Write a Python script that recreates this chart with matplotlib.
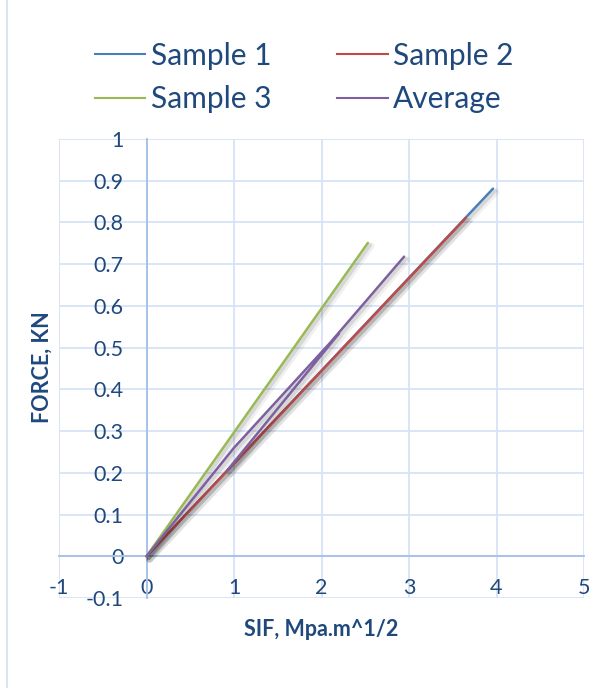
import numpy as np
import matplotlib
matplotlib.use("Agg")
import matplotlib.pyplot as plt
from matplotlib import patheffects as pe
from matplotlib.lines import Line2D
from matplotlib.patches import Rectangle

plt.rcParams["font.family"] = ["Lato", "DejaVu Sans"]

# SIF (MPa.m^1/2) vs force (kN) for each specimen
sif_s1 = [0.0, 3.96]
force_s1 = [0.0, 0.881]
sif_s2 = [0.0, 3.65]
force_s2 = [0.0, 0.811]
sif_s3 = [0.0, 2.53]
force_s3 = [0.0, 0.751]
# averaged curve (two pieces separated by a blank cell)
sif_avg = [0.0, 1.0, 2.1, 2.944, np.nan, 0.92, 2.2]
force_avg = [0.0, 0.26, 0.512, 0.718, np.nan, 0.205, 0.534]

series_names = ["Sample 1", "Sample 2", "Sample 3", "Average"]
x_ticks = [-1, 0, 1, 2, 3, 4, 5]
x_tick_labels = ["-1", "0", "1", "2", "3", "4", "5"]
y_ticks = [-0.1, 0.0, 0.1, 0.2, 0.3, 0.4, 0.5, 0.6, 0.7, 0.8, 0.9, 1.0]
y_tick_labels = ["-0.1", "0", "0.1", "0.2", "0.3", "0.4", "0.5", "0.6",
                 "0.7", "0.8", "0.9", "1"]

TEXT = "#1F497D"
GRID = "#D7E3F4"
AXIS = "#A7C2EA"
colors = ["#4A7EBB", "#BE4B48", "#98B954", "#7D60A0"]

fig = plt.figure(figsize=(6, 6.88), dpi=100)
fig.patch.set_facecolor("white")

# chart-area frame
fig.patches.append(Rectangle((7 / 600, -0.2), 1.2, 1.2 + (1 - 8 / 688),
                             transform=fig.transFigure, fill=False,
                             edgecolor="#D5E1F2", linewidth=1.3, zorder=0))

ax = fig.add_axes([59 / 600, 1 - 598 / 688, 525 / 600, 459 / 688])
ax.set_xlim(-1, 5)
ax.set_ylim(-0.1, 1.0)

for s in ("top", "right"):
    ax.spines[s].set_visible(False)
ax.spines["left"].set_position(("data", 0))
ax.spines["bottom"].set_position(("data", 0))
for s in ("left", "bottom"):
    ax.spines[s].set_color(AXIS)
    ax.spines[s].set_linewidth(1.4)
    ax.spines[s].set_zorder(1.5)

ax.set_xticks(x_ticks, labels=x_tick_labels)
ax.set_yticks(y_ticks, labels=y_tick_labels)
ax.tick_params(axis="both", length=0, labelsize=15.5, labelcolor=TEXT)
ax.tick_params(axis="x", pad=15.5)
ax.tick_params(axis="y", pad=16.5)
ax.grid(True, color=GRID, linewidth=1.3)
ax.set_axisbelow(True)

# soft drop shadow under each series
shadow = [pe.SimpleLineShadow(offset=(2.2, -2.2), shadow_color="black",
                              alpha=0.06, linewidth=5.0),
          pe.SimpleLineShadow(offset=(1.6, -1.6), shadow_color="black",
                              alpha=0.10, linewidth=2.6),
          pe.Normal()]

data = [(sif_s1, force_s1), (sif_s2, force_s2), (sif_s3, force_s3),
        (sif_avg, force_avg)]
for (xs, ys), c, name in zip(data, colors, series_names):
    ax.plot(xs, ys, color=c, linewidth=1.8, solid_capstyle="round",
            path_effects=shadow, label=name, zorder=3)

# legend filled row by row: Sample 1, Sample 2 / Sample 3, Average
order = [0, 2, 1, 3]
handles = [Line2D([], [], color=colors[i], linewidth=1.5) for i in order]
labels = [series_names[i] for i in order]
fig.legend(handles, labels, ncol=2, loc="center",
           bbox_to_anchor=(304 / 600, 1 - 77.5 / 688), frameon=False,
           fontsize=21.5, labelcolor=TEXT, handlelength=1.7,
           handletextpad=0.18, columnspacing=2.2, labelspacing=0.52)

fig.text(321.5 / 600, 1 - 630 / 688, "SIF, Mpa.m^1/2", ha="center",
         va="center", fontsize=15.5, fontweight="bold", color=TEXT)
fig.text(42 / 600, 1 - 367 / 688, "FORCE, KN", ha="center", va="center",
         rotation=90, fontsize=15.5, fontweight="bold", color=TEXT)

fig.savefig("out.png", dpi=100, facecolor="white")
